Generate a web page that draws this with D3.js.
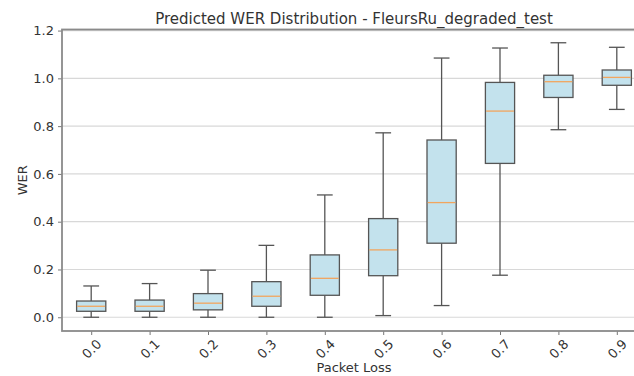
<!DOCTYPE html>
<html>
<head>
<meta charset="utf-8">
<script src="https://cdn.jsdelivr.net/npm/d3@7"></script>
<style>
  body { margin: 0; background: #fff; }
  text { font-family: "DejaVu Sans", sans-serif; fill: #333; }
</style>
</head>
<body>
<svg id="chart" width="634" height="376"></svg>
<script>
// packet loss levels
var categories = ["0.0", "0.1", "0.2", "0.3", "0.4", "0.5", "0.6", "0.7", "0.8", "0.9"];
// box stats
var whiskerLow  = [0.000, 0.000, 0.000, 0.000, 0.000, 0.007, 0.049, 0.176, 0.785, 0.870];
var q1          = [0.025, 0.025, 0.031, 0.046, 0.092, 0.174, 0.310, 0.644, 0.920, 0.971];
var median      = [0.046, 0.046, 0.059, 0.088, 0.163, 0.282, 0.480, 0.863, 0.986, 1.004];
var q3          = [0.068, 0.072, 0.099, 0.149, 0.261, 0.413, 0.742, 0.983, 1.013, 1.035];
var whiskerHigh = [0.131, 0.141, 0.197, 0.301, 0.512, 0.772, 1.085, 1.127, 1.149, 1.130];
var yTicks = [0.0, 0.2, 0.4, 0.6, 0.8, 1.0, 1.2];

var data = categories.map(function (c, i) {
    return {label: c, lo: whiskerLow[i], q1: q1[i], med: median[i], q3: q3[i], hi: whiskerHigh[i]};
});

var svg = d3.select("#chart");
var plotL = 62, plotR = 646, plotT = 29.5, plotB = 331;

var x = d3.scaleLinear().domain([0.5, categories.length + 0.5]).range([plotL, plotR]);
var y = d3.scaleLinear().domain([-0.0575, 1.2045]).range([plotB, plotT]);
var step = x(2) - x(1);
var boxW = step * 0.5, capW = step * 0.27;

// grid
svg.append("g").selectAll("line").data(yTicks).enter().append("line")
    .attr("x1", plotL).attr("x2", plotR)
    .attr("y1", function (d) { return y(d); }).attr("y2", function (d) { return y(d); })
    .attr("stroke", "#d8d8d8").attr("stroke-width", 1.2);

var edge = "#555";
var boxes = svg.append("g").selectAll("g").data(data).enter().append("g");

boxes.append("line")
    .attr("x1", function (d, i) { return x(i + 1); }).attr("x2", function (d, i) { return x(i + 1); })
    .attr("y1", function (d) { return y(d.hi); }).attr("y2", function (d) { return y(d.q3); })
    .attr("stroke", edge).attr("stroke-width", 1.3);
boxes.append("line")
    .attr("x1", function (d, i) { return x(i + 1); }).attr("x2", function (d, i) { return x(i + 1); })
    .attr("y1", function (d) { return y(d.q1); }).attr("y2", function (d) { return y(d.lo); })
    .attr("stroke", edge).attr("stroke-width", 1.3);
boxes.append("line")
    .attr("x1", function (d, i) { return x(i + 1) - capW / 2; }).attr("x2", function (d, i) { return x(i + 1) + capW / 2; })
    .attr("y1", function (d) { return y(d.hi); }).attr("y2", function (d) { return y(d.hi); })
    .attr("stroke", edge).attr("stroke-width", 1.3);
boxes.append("line")
    .attr("x1", function (d, i) { return x(i + 1) - capW / 2; }).attr("x2", function (d, i) { return x(i + 1) + capW / 2; })
    .attr("y1", function (d) { return y(d.lo); }).attr("y2", function (d) { return y(d.lo); })
    .attr("stroke", edge).attr("stroke-width", 1.3);
boxes.append("rect")
    .attr("x", function (d, i) { return x(i + 1) - boxW / 2; })
    .attr("width", boxW)
    .attr("y", function (d) { return y(d.q3); })
    .attr("height", function (d) { return y(d.q1) - y(d.q3); })
    .attr("fill", "#c3e2ed").attr("stroke", edge).attr("stroke-width", 1.3);
boxes.append("line")
    .attr("x1", function (d, i) { return x(i + 1) - boxW / 2 + 0.7; }).attr("x2", function (d, i) { return x(i + 1) + boxW / 2 - 0.7; })
    .attr("y1", function (d) { return y(d.med); }).attr("y2", function (d) { return y(d.med); })
    .attr("stroke", "#f2a55e").attr("stroke-width", 1.3);

// axes
var yAxis = d3.axisLeft(y).tickValues(yTicks).tickFormat(d3.format(".1f")).tickSize(4).tickPadding(4);
var gy = svg.append("g").attr("transform", "translate(" + plotL + ",0)").call(yAxis);
gy.select(".domain").remove();
gy.selectAll("line").attr("stroke", "#777");
gy.selectAll("text").style("font-size", "13px").attr("fill", "#333");

var xAxis = d3.axisBottom(x).tickValues(d3.range(1, categories.length + 1))
    .tickFormat(function (d) { return categories[d - 1]; }).tickSize(4).tickPadding(0);
var gx = svg.append("g").attr("transform", "translate(0," + plotB + ")").call(xAxis);
gx.select(".domain").remove();
gx.selectAll("line").attr("stroke", "#777");
gx.selectAll("text").style("font-size", "13px").attr("fill", "#333")
    .attr("text-anchor", "middle").attr("y", 0).attr("dy", "0.35em")
    .attr("transform", "translate(0,18) rotate(-45)");

// spines
svg.append("rect").attr("x", plotL).attr("y", plotT).attr("width", plotR - plotL).attr("height", plotB - plotT)
    .attr("fill", "none").attr("stroke", "#8a8a8a").attr("stroke-width", 1.8);

svg.append("text").attr("x", (plotL + plotR) / 2).attr("y", 24).attr("text-anchor", "middle")
    .style("font-size", "15px").text("Predicted WER Distribution - FleursRu_degraded_test");
svg.append("text").attr("x", (plotL + plotR) / 2).attr("y", 372).attr("text-anchor", "middle")
    .style("font-size", "13px").text("Packet Loss");
svg.append("text").attr("transform", "translate(27," + ((plotT + plotB) / 2) + ") rotate(-90)")
    .attr("text-anchor", "middle").style("font-size", "13px").text("WER");
</script>
</body>
</html>
